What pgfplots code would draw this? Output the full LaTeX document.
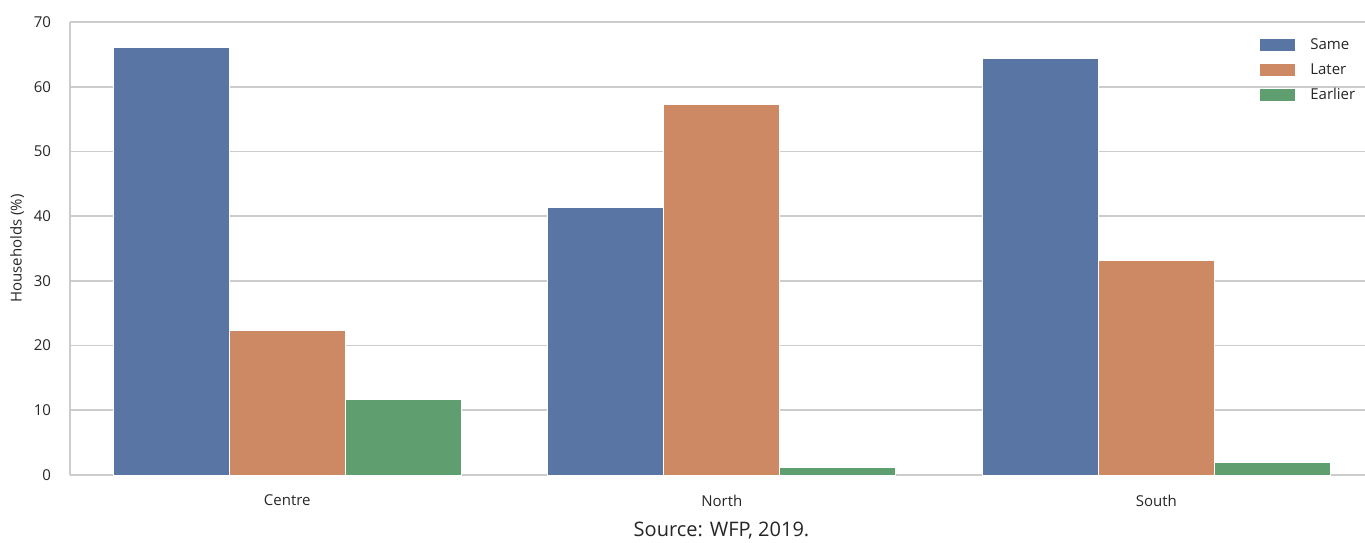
\documentclass[border=0pt]{standalone}
\usepackage{fontspec}
\setmainfont{Open Sans}
\usepackage{pgfplots}
\pgfplotsset{compat=1.18}

\definecolor{cSame}{HTML}{5975A4}
\definecolor{cLater}{HTML}{CC8963}
\definecolor{cEarlier}{HTML}{5F9E6E}
\definecolor{gridgray}{HTML}{CCCCCC}

\begin{document}
\begin{tikzpicture}
\path[use as bounding box] (-35pt,-33.5pt) rectangle (647.5pt,237.5pt);
\begin{axis}[
  at={(0,0)}, anchor=south west,
  scale only axis,
  width=647.5pt, height=226.5pt,
  ybar=0pt, bar width=58pt,
  xmin=-0.5, xmax=2.48,
  ymin=0, ymax=70,
  xtick=data,
  xticklabels={Centre,North,South},
  ytick={0,10,...,70},
  /pgf/number format/assume math mode=true,
  major tick length=0pt,
  axis x line*=bottom, axis y line*=left,
  axis line style={gridgray, line width=1pt, -},
  ymajorgrids,
  grid style={gridgray, line width=0.9pt},
  tick label style={font=\fontsize{7.5}{9}\selectfont, text=black!85},
  yticklabel style={xshift=-6pt},
  xticklabel style={yshift=-6.5pt},
  ylabel={Households (\%)},
  ylabel style={font=\fontsize{7.5}{9}\selectfont, text=black!85, yshift=-2pt},
  legend style={at={(1.009,0.982)}, anchor=north east, draw=none, fill=none,
    font=\fontsize{7.5}{9}\selectfont, text=black!85,
    row sep=1.5pt, cells={anchor=west}, nodes={inner xsep=7.5pt}},
  legend image code/.code={\fill[#1, draw=none] (0pt,-3pt) rectangle (17.5pt,3pt);},
  every axis plot/.append style={draw=white, line width=0.5pt},
  clip=false,
]
\addplot[fill=cSame] coordinates {(0,66.0) (1,41.3) (2,64.4)};
\addplot[fill=cLater] coordinates {(0,22.3) (1,57.3) (2,33.2)};
\addplot[fill=cEarlier] coordinates {(0,11.6) (1,1.2) (2,2.0)};
\legend{Same,Later,Earlier}
\node[font=\fontsize{10}{12}\selectfont, text=black!85] at (rel axis cs:0.5,0) [yshift=-28pt, xshift=2pt] {Source: WFP, 2019.};
\end{axis}
\end{tikzpicture}
\end{document}
